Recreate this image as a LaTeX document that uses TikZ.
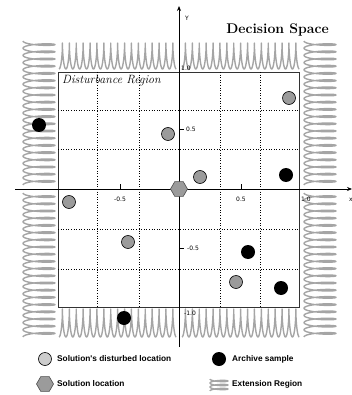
\documentclass[tikz,border=0pt]{standalone}
\usepackage{fontspec}
\newfontfamily\legfont{Liberation Sans}
\newfontfamily\axfont{DejaVu Sans}
\usetikzlibrary{shapes.geometric,arrows.meta}
\definecolor{springgray}{RGB}{165,165,165}
\definecolor{ptgray}{RGB}{155,155,155}
\definecolor{leggray}{RGB}{205,205,205}
\begin{document}
\begin{tikzpicture}[x=1pt,y=-1pt,
  springline/.style={draw=springgray, line width=1.4pt, line join=round},
  disturbed/.style={circle, draw=black, fill=ptgray, line width=0.6pt, minimum size=13pt, inner sep=0pt},
  archive/.style={circle, fill=black, minimum size=14pt, inner sep=0pt},
  solution/.style={regular polygon, regular polygon sides=6, draw=black!70, fill=ptgray, line width=0.6pt, minimum size=17pt, inner sep=0pt},
  axlabel/.style={font=\axfont\fontsize{6}{7}\selectfont, inner sep=0pt},
  leglabel/.style={font=\legfont\bfseries\fontsize{8.3}{10}\selectfont, anchor=west, inner sep=0pt},
  grid line/.style={dotted, line width=0.6pt}
]
\useasboundingbox (0,0) rectangle (352,395);
% springs (extension regions)
\draw[springline] plot[domain=0:6120, samples=500, variable=\t] ({59 + (\t/360)*6.9 + 1.2*sin(\t)}, {56 + 13*cos(\t)});
\draw[springline] plot[domain=0:6120, samples=500, variable=\t] ({182 + (\t/360)*6.9 + 1.2*sin(\t)}, {56 + 13*cos(\t)});
\draw[springline] plot[domain=0:6120, samples=500, variable=\t] ({59 + (\t/360)*6.9 + 1.2*sin(\t)}, {323 + 14*cos(\t)});
\draw[springline] plot[domain=0:6120, samples=500, variable=\t] ({182 + (\t/360)*6.9 + 1.2*sin(\t)}, {323 + 14*cos(\t)});
\draw[springline] plot[domain=0:7200, samples=600, variable=\t] ({39 - 16*cos(\t)}, {41 + (\t/360)*7.2 + 2.3*sin(\t)});
\draw[springline] plot[domain=0:7200, samples=600, variable=\t] ({39 - 16*cos(\t)}, {193 + (\t/360)*7.2 + 2.3*sin(\t)});
\draw[springline] plot[domain=0:7200, samples=600, variable=\t] ({320 - 16*cos(\t)}, {41 + (\t/360)*7.2 + 2.3*sin(\t)});
\draw[springline] plot[domain=0:7200, samples=600, variable=\t] ({320 - 16*cos(\t)}, {193 + (\t/360)*7.2 + 2.3*sin(\t)});
% disturbance region
\draw[line width=0.7pt, black!80] (58,72) rectangle (299,307);
\foreach \gx in {97,139,220,260} \draw[grid line] (\gx,72) -- (\gx,307);
\foreach \gy in {110,149,229,269} \draw[grid line] (58,\gy) -- (299,\gy);
% axes
\coordinate (xs) at (15,189);
\coordinate (xe) at (352,189);
\coordinate (ys) at (179,347);
\coordinate (ye) at (179,6);
\draw[line width=0.8pt, -{Stealth[length=5pt,width=4pt]}] (xs) -- (xe);
\draw[line width=0.8pt, -{Stealth[length=5pt,width=4pt]}] (ys) -- (ye);
\foreach \tx in {120,241} \draw[line width=0.6pt] (\tx,189) -- (\tx,184);
\foreach \ty in {129,248} \draw[line width=0.6pt] (179,\ty) -- (184,\ty);
\node[axlabel] (lxm) at (120,199) {-0.5};
\node[axlabel] (lxp) at (241,199) {0.5};
\node[axlabel] (lx1) at (306,199) {1.0};
\node[axlabel] (lxx) at (351,200) {x};
\node[axlabel] (ly1) at (186,68) {1.0};
\node[axlabel] (lyp) at (191,129) {0.5};
\node[axlabel] (lym) at (193,248) {-0.5};
\node[axlabel] (lym1) at (190,313) {-1.0};
\node[axlabel] (lyy) at (187,18) {Y};
% titles
\node[font=\fontsize{14}{16}\selectfont\bfseries, anchor=east, inner sep=0pt] (title) at (329,30) {Decision Space};
\node[font=\fontsize{12}{14}\selectfont\itshape, anchor=west, inner sep=0pt] (dr) at (62,81) {Disturbance Region};
% points
\node[disturbed] (d1) at (168,134) {};
\node[disturbed] (d2) at (289,98) {};
\node[disturbed] (d3) at (200,177) {};
\node[disturbed] (d4) at (69,202) {};
\node[disturbed] (d5) at (128,242) {};
\node[disturbed] (d6) at (236,282) {};
\node[archive] (a1) at (39,125) {};
\node[archive] (a2) at (286,175) {};
\node[archive] (a3) at (248,252) {};
\node[archive] (a4) at (281,288) {};
\node[archive] (a5) at (124,318) {};
\node[solution] (s0) at (179,189) {};
% legend
\node[disturbed, fill=leggray] (lg1) at (45,359) {};
\node[leglabel] (lt1) at (57,359) {Solution's disturbed location};
\node[archive] (lg2) at (219,359) {};
\node[leglabel] (lt2) at (232,359) {Archive sample};
\node[solution] (lg3) at (45,384) {};
\node[leglabel] (lt3) at (57,384) {Solution location};
\draw[springline] plot[domain=0:1080, samples=120, variable=\t] ({219 - 9*cos(\t)}, {379 + (\t/360)*4 + 1.5*sin(\t)});
\node[leglabel] (lt4) at (232,384) {Extension Region};
\end{tikzpicture}
\end{document}
